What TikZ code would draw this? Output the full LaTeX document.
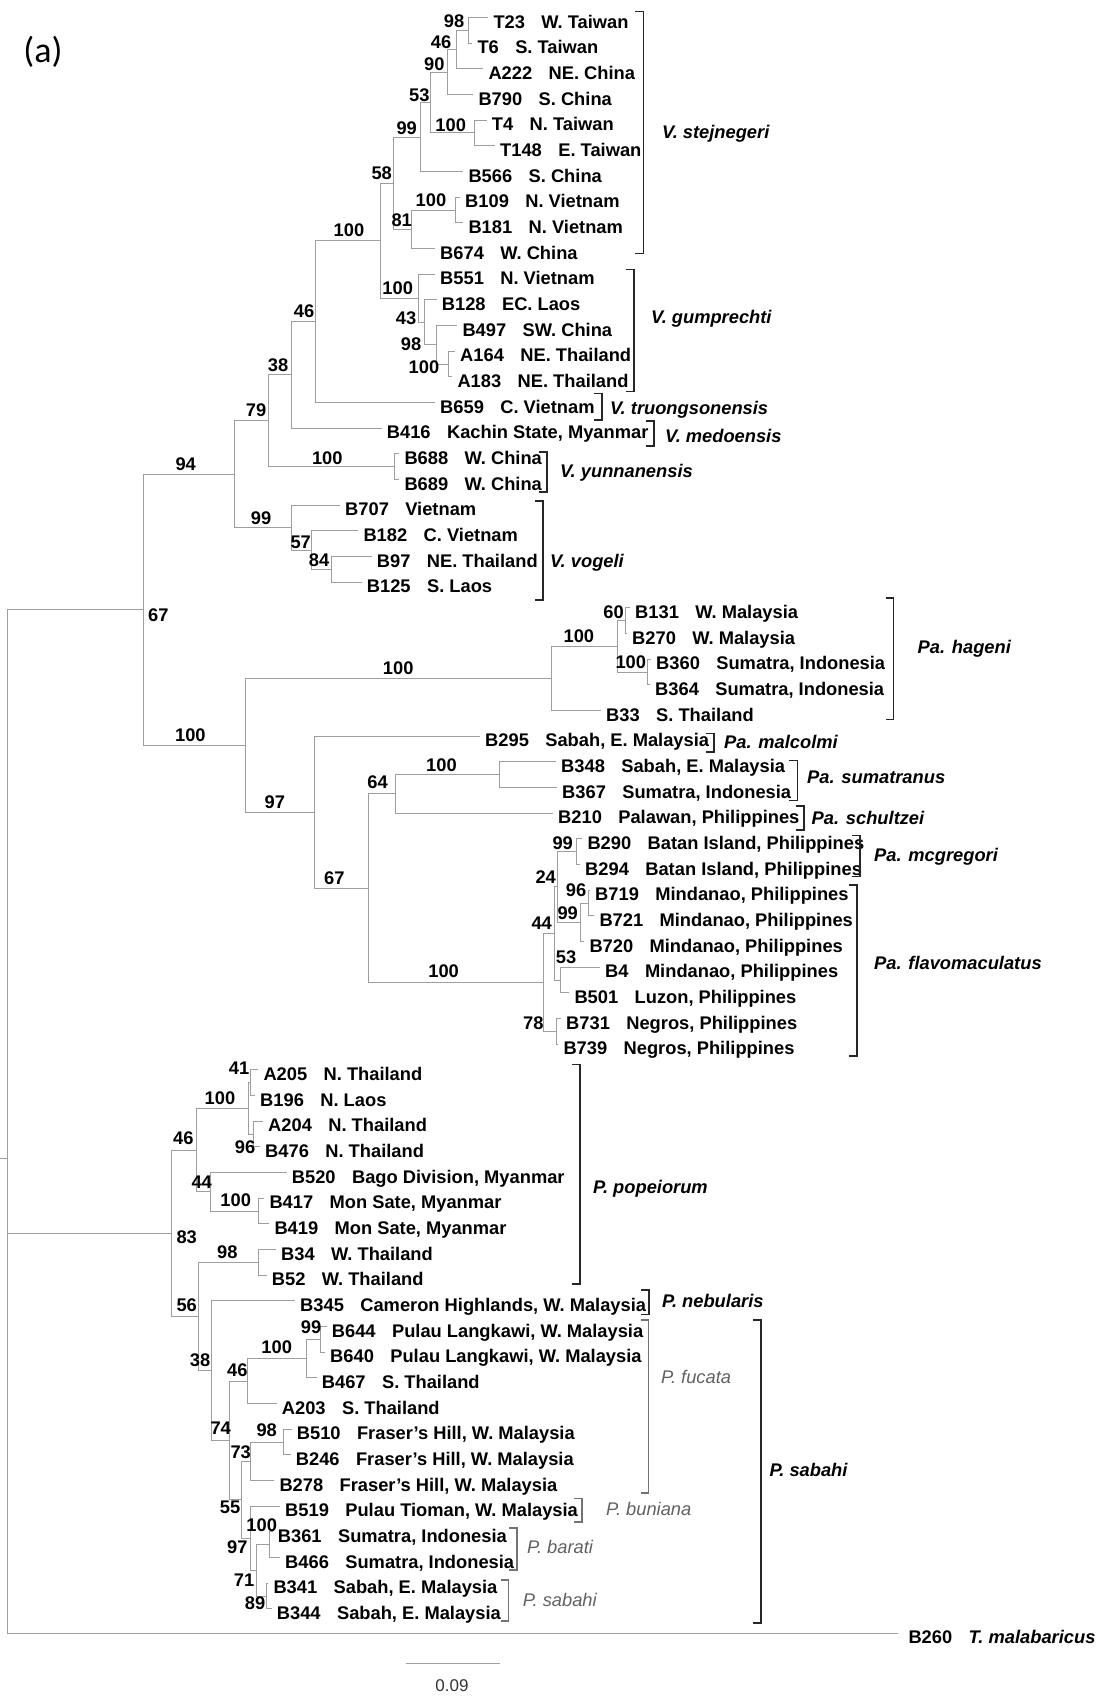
\documentclass[tikz,border=0pt]{standalone}
\usepackage{fontspec}
\setmainfont{Liberation Sans}
\newfontfamily\labelfont{Carlito}
\usetikzlibrary{calc}

% leaf: name, label x, row, code, locality
\newcommand\tleaf[5]{%
  \coordinate (#1) at ({#2-5},{17.5+(#3-1)*25.667});
  \node[tx,anchor=west] (#1c) at ({#2},{21.5+(#3-1)*25.667}) {#4};
  \node[tx,anchor=west] (#1l) at ([xshift=16pt]#1c.east) {#5};
}
% internal node: name, x, upper child, lower child
\newcommand\tnode[4]{%
  \path let \p1=(#3), \p2=(#4) in (#2pt,{0.5*\y1+0.5*\y2}) coordinate (#1);
  \draw[br] (#1) |- (#3);
  \draw[br] (#1) |- (#4);
}
% species bracket: style, x, top, bottom
\newcommand\sbrak[4]{%
  \draw[#1] ({#2-8},#3) -- (#2,#3) -- (#2,#4) -- ({#2-8},#4);
}

\begin{document}
\begin{tikzpicture}[x=1pt,y=-1pt,
  br/.style={line width=1pt, draw=black!38},
  brk/.style={line width=1.5pt, draw=black!85, line cap=butt},
  brkg/.style={line width=1.1pt, draw=black!55},
  tx/.style={inner sep=0pt, font=\bfseries\fontsize{18.3}{20}\selectfont, text height=13.1pt, text depth=0pt},
  sup/.style={tx},
  sp/.style={tx, anchor=west, font=\bfseries\itshape\fontsize{18.3}{20}\selectfont},
  spg/.style={tx, anchor=west, font=\itshape\fontsize{18.3}{20}\selectfont, text=black!62},
]
\useasboundingbox (0,0) rectangle (1095,1696);

\node[inner sep=0pt, font=\labelfont\fontsize{36}{40}\selectfont] (panel) at (43,52) {(a)};

% ---------- leaves ----------
\tleaf{T23}{493.3}{1}{T23}{W. Taiwan}
\tleaf{T6}{477.3}{2}{T6}{S. Taiwan}
\tleaf{A222}{488.3}{3}{A222}{NE. China}
\tleaf{B790}{478.3}{4}{B790}{S. China}
\tleaf{T4}{491.7}{5}{T4}{N. Taiwan}
\tleaf{T148}{500}{6}{T148}{E. Taiwan}
\tleaf{B566}{468.3}{7}{B566}{S. China}
\tleaf{B109}{465}{8}{B109}{N. Vietnam}
\tleaf{B181}{468.3}{9}{B181}{N. Vietnam}
\tleaf{B674}{440}{10}{B674}{W. China}
\tleaf{B551}{440}{11}{B551}{N. Vietnam}
\tleaf{B128}{441.7}{12}{B128}{EC. Laos}
\tleaf{B497}{462.3}{13}{B497}{SW. China}
\tleaf{A164}{460}{14}{A164}{NE. Thailand}
\tleaf{A183}{457.3}{15}{A183}{NE. Thailand}
\tleaf{B659}{440}{16}{B659}{C. Vietnam}
\tleaf{B416}{386.7}{17}{B416}{Kachin State, Myanmar}
\tleaf{B688}{404.3}{18}{B688}{W. China}
\tleaf{B689}{404.3}{19}{B689}{W. China}
\tleaf{B707}{345}{20}{B707}{Vietnam}
\tleaf{B182}{363.3}{21}{B182}{C. Vietnam}
\tleaf{B97}{376.7}{22}{B97}{NE. Thailand}
\tleaf{B125}{366.7}{23}{B125}{S. Laos}
\tleaf{B131}{635}{24}{B131}{W. Malaysia}
\tleaf{B270}{632}{25}{B270}{W. Malaysia}
\tleaf{B360}{656}{26}{B360}{Sumatra, Indonesia}
\tleaf{B364}{655}{27}{B364}{Sumatra, Indonesia}
\tleaf{B33}{606}{28}{B33}{S. Thailand}
\tleaf{B295}{485}{29}{B295}{Sabah, E. Malaysia}
\tleaf{B348}{561}{30}{B348}{Sabah, E. Malaysia}
\tleaf{B367}{562}{31}{B367}{Sumatra, Indonesia}
\tleaf{B210}{558}{32}{B210}{Palawan, Philippines}
\tleaf{B290}{587.3}{33}{B290}{Batan Island, Philippines}
\tleaf{B294}{585}{34}{B294}{Batan Island, Philippines}
\tleaf{B719}{595}{35}{B719}{Mindanao, Philippines}
\tleaf{B721}{599.3}{36}{B721}{Mindanao, Philippines}
\tleaf{B720}{589.3}{37}{B720}{Mindanao, Philippines}
\tleaf{B4}{605}{38}{B4}{Mindanao, Philippines}
\tleaf{B501}{574.3}{39}{B501}{Luzon, Philippines}
\tleaf{B731}{566}{40}{B731}{Negros, Philippines}
\tleaf{B739}{563.3}{41}{B739}{Negros, Philippines}
\tleaf{A205}{263.3}{42}{A205}{N. Thailand}
\tleaf{B196}{260}{43}{B196}{N. Laos}
\tleaf{A204}{268}{44}{A204}{N. Thailand}
\tleaf{B476}{265}{45}{B476}{N. Thailand}
\tleaf{B520}{291.7}{46}{B520}{Bago Division, Myanmar}
\tleaf{B417}{269.3}{47}{B417}{Mon Sate, Myanmar}
\tleaf{B419}{274.3}{48}{B419}{Mon Sate, Myanmar}
\tleaf{B34}{281}{49}{B34}{W. Thailand}
\tleaf{B52}{271.7}{50}{B52}{W. Thailand}
\tleaf{B345}{300}{51}{B345}{Cameron Highlands, W. Malaysia}
\tleaf{B644}{331.7}{52}{B644}{Pulau Langkawi, W. Malaysia}
\tleaf{B640}{330}{53}{B640}{Pulau Langkawi, W. Malaysia}
\tleaf{B467}{321.7}{54}{B467}{S. Thailand}
\tleaf{A203}{281.7}{55}{A203}{S. Thailand}
\tleaf{B510}{296.7}{56}{B510}{Fraser's Hill, W. Malaysia}
\tleaf{B246}{295.7}{57}{B246}{Fraser's Hill, W. Malaysia}
\tleaf{B278}{279.3}{58}{B278}{Fraser's Hill, W. Malaysia}
\tleaf{B519}{285}{59}{B519}{Pulau Tioman, W. Malaysia}
\tleaf{B361}{277.7}{60}{B361}{Sumatra, Indonesia}
\tleaf{B466}{285}{61}{B466}{Sumatra, Indonesia}
\tleaf{B341}{273.3}{62}{B341}{Sabah, E. Malaysia}
\tleaf{B344}{276.7}{63}{B344}{Sabah, E. Malaysia}
% outgroup
\coordinate (B260) at (898.3,1633);
\node[tx,anchor=west] (B260c) at (908.3,1637) {B260};
\node[sp] (B260l) at ([xshift=16pt]B260c.east) {T. malabaricus};

% ---------- internal nodes: Viridovipera ----------
\tnode{n98}{468.3}{T23}{T6}
\tnode{n46a}{456}{n98}{A222}
\tnode{n90}{447.3}{n46a}{B790}
\tnode{n100b}{474}{T4}{T148}
\tnode{n53a}{430}{n90}{n100b}
\tnode{n99a}{420}{n53a}{B566}
\tnode{n100c}{455}{B109}{B181}
\tnode{n81}{411.7}{n100c}{B674}
\tnode{n58}{393.3}{n99a}{n81}
\tnode{n100d}{448.3}{A164}{A183}
\tnode{n98b}{436}{B497}{n100d}
\tnode{n43}{424}{B128}{n98b}
\tnode{n100e}{418.3}{B551}{n43}
\tnode{n100g}{380}{n58}{n100e}
\tnode{n46b}{315}{n100g}{B659}
\tnode{n38a}{291}{n46b}{B416}
\tnode{n100y}{394.3}{B688}{B689}
\tnode{n79}{268.3}{n38a}{n100y}
\tnode{n84}{331}{B97}{B125}
\tnode{n57}{311}{B182}{n84}
\tnode{n99v}{291.7}{B707}{n57}
\tnode{n94}{234.3}{n79}{n99v}

% ---------- internal nodes: Parias ----------
\tnode{n60}{625}{B131}{B270}
\tnode{n100h}{647}{B360}{B364}
\tnode{n100i}{617}{n60}{n100h}
\tnode{n100H}{551}{n100i}{B33}
\tnode{n100s}{499}{B348}{B367}
\tnode{n64}{395}{n100s}{B210}
\tnode{n99m}{576}{B290}{B294}
\tnode{n96}{588.3}{B719}{B721}
\tnode{n99f}{580}{n96}{B720}
\tnode{n24}{557}{n99m}{n99f}
\tnode{n53}{560}{B4}{B501}
\tnode{n44}{554}{n24}{n53}
\tnode{n78}{556}{B731}{B739}
\tnode{n100F}{543}{n44}{n78}
\tnode{n67b}{368}{n64}{n100F}
\tnode{n97}{314.6}{B295}{n67b}
\tnode{n100P}{245}{n100H}{n97}
\tnode{n67}{143.3}{n94}{n100P}

% ---------- internal nodes: Popeia ----------
\tnode{n41}{250.5}{A205}{B196}
\tnode{n96p}{253}{A204}{B476}
\tnode{n100a}{248.3}{n41}{n96p}
\tnode{n100k}{258.3}{B417}{B419}
\tnode{n44p}{210.7}{B520}{n100k}
\tnode{n46p}{196.7}{n100a}{n44p}
\tnode{n98p}{258.3}{B34}{B52}
\tnode{n99s}{320}{B644}{B640}
\tnode{n100L}{306.7}{n99s}{B467}
\tnode{n46q}{247.3}{n100L}{A203}
\tnode{n98q}{283.3}{B510}{B246}
\tnode{n73}{250}{n98q}{B278}
\tnode{n100B}{269.3}{B361}{B466}
\tnode{n89}{266}{B341}{B344}
\tnode{n71}{256}{n100B}{n89}
\tnode{n97q}{250}{B519}{n71}
\tnode{n55}{241.7}{n73}{n97q}
\tnode{n74}{229.3}{n46q}{n55}
\tnode{n38}{211.7}{B345}{n74}
\tnode{n56}{198.3}{n98p}{n38}
\tnode{n83}{171.7}{n46p}{n56}

% ---------- root ----------
\path let \p1=(n67), \p2=(n83), \p3=(B260) in (7.3pt,{(\y1+\y2+\y3)/3}) coordinate (root);
\draw[br] (root) |- (n67);
\draw[br] (root) |- (n83);
\draw[br] (root) |- (B260);
\draw[br] (root) -- ++(-7.3,0) coordinate (stem);

% ---------- bootstrap values ----------
\foreach \v/\px/\py in {
  98/454/20.7, 46/441/41.7, 90/434.3/64, 53/419.3/95, 100/450.7/125,
  99/406.7/128.3, 58/381.7/173.3, 100/431/200, 81/401.7/220, 100/349/230,
  100/397.7/288.3, 43/406/318.3, 98/411/344, 100/424/366.7, 46/304/310.5,
  38/278/365, 79/256/410, 100/327.3/458.3, 94/185.7/464, 99/261/518.3,
  57/300.7/541.7, 84/319/560, 67/158.3/615,
  60/613.5/612.4, 100/578.9/636.2, 100/630.8/662.2, 100/398.2/667.6,
  100/190.4/734.7, 100/441.5/765, 64/377.6/782.3, 97/274.8/801.8,
  67/334.3/877.5, 100/443.6/970.5, 99/562.7/842.7, 24/545.7/876.7,
  96/576/890, 99/567.7/913.3, 44/541.7/923.3, 53/566/956.7, 78/533.3/1023.3,
  41/239/1068, 100/220/1098, 46/183.3/1138.3, 96/245/1146.7, 44/201.7/1181.7,
  100/235.7/1200, 83/186.7/1236.7, 98/227.3/1251.7, 56/186.7/1305,
  99/311/1327, 100/276.7/1346.7, 38/200/1360, 46/237.3/1370,
  74/220.7/1428.3, 98/266.7/1430, 73/240.7/1451.7, 55/230/1506.7,
  100/261.7/1525, 97/237.3/1546.7, 71/244/1580, 89/255/1603.3}
  \node[sup] at (\px,\py) {\v};

% ---------- species brackets ----------
\sbrak{brk}{643.3}{11.7}{253.3}
\node[sp] (s1) at (662,132) {V. stejnegeri};
\sbrak{brk}{634}{269.3}{391.7}
\node[sp] (s2) at (651,317) {V. gumprechti};
\sbrak{brk}{602}{393.3}{420}
\node[sp] (s3) at (610,408) {V. truongsonensis};
\sbrak{brk}{654}{421}{446}
\node[sp] (s4) at (665,436) {V. medoensis};
\sbrak{brk}{547}{452}{492}
\node[sp] (s5) at (560,470.7) {V. yunnanensis};
\sbrak{brk}{543}{501}{600}
\node[sp] (s6) at (550,560.5) {V. vogeli};
\sbrak{brk}{893.5}{598}{719.5}
\node[sp] (s7) at (917.5,647) {Pa. hageni};
\sbrak{brk}{714}{733.6}{752}
\node[sp] (s8) at (724,742) {Pa. malcolmi};
\sbrak{brk}{797.4}{760.6}{800.7}
\node[sp] (s9) at (807,777) {Pa. sumatranus};
\sbrak{brk}{804}{806}{830}
\node[sp] (s10) at (811.5,818) {Pa. schultzei};
\sbrak{brk}{860}{835.3}{876.4}
\node[sp] (s11) at (874,854.8) {Pa. mcgregori};
\sbrak{brk}{857}{885}{1056}
\node[sp] (s12) at (874,963) {Pa. flavomaculatus};
\sbrak{brk}{580}{1064.7}{1284}
\node[sp] (s13) at (593,1187) {P. popeiorum};
\sbrak{brk}{649}{1290}{1314.6}
\node[sp] (s14) at (662,1300.6) {P. nebularis};
\sbrak{brkg}{648.5}{1320}{1493}
\node[spg] (s15) at (661,1377) {P. fucata};
\sbrak{brkg}{582}{1498.6}{1522}
\node[spg] (s16) at (606,1509) {P. buniana};
\sbrak{brkg}{517}{1528}{1570}
\node[spg] (s17) at (527,1547) {P. barati};
\sbrak{brkg}{508.5}{1580}{1621}
\node[spg] (s18) at (522.6,1600) {P. sabahi};
\sbrak{brk}{761}{1320}{1623}
\node[sp] (s19) at (769.3,1470) {P. sabahi};

% ---------- scale bar ----------
\coordinate (sb1) at (405.7,1663);
\coordinate (sb2) at (500,1663);
\draw[br] (sb1) -- (sb2);
\node[inner sep=0pt, font=\fontsize{17}{19}\selectfont, text=black!80] (sbl) at (452,1686) {0.09};
\end{tikzpicture}
\end{document}
